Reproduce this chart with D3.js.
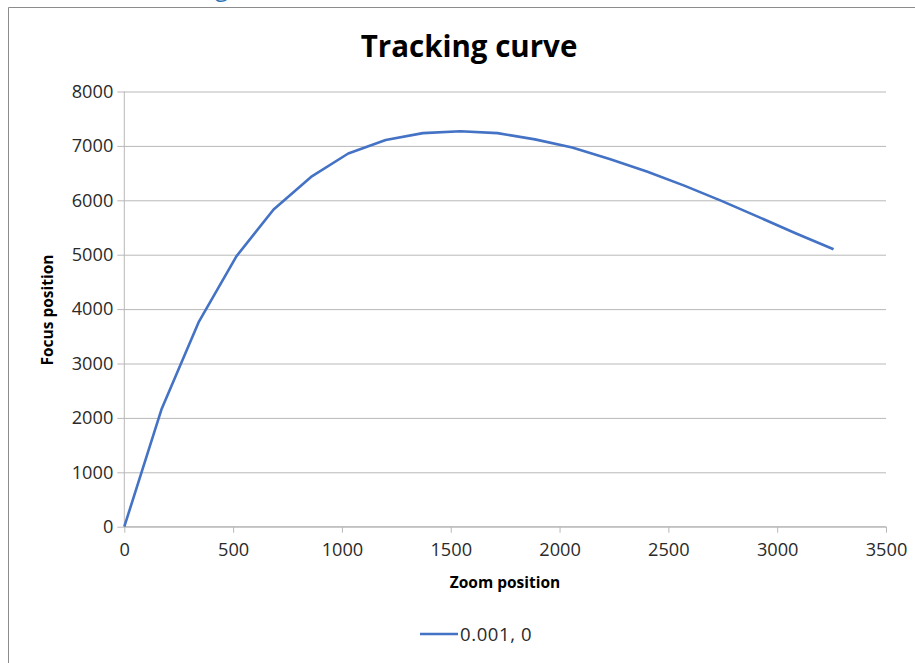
<!DOCTYPE html>
<html>
<head>
<meta charset="utf-8">
<script src="https://cdn.jsdelivr.net/npm/d3@7"></script>
<style>
  html, body { margin: 0; padding: 0; background: #fff; }
  svg { display: block; }
  text { font-family: "Open Sans", "Noto Sans", sans-serif; }
</style>
</head>
<body>
<script>
// ---- data ----
const zoomPositions = [0, 172, 343, 515, 686, 858, 1029, 1201, 1372, 1544, 1715, 1887, 2058, 2230, 2401, 2573, 2744, 2916, 3087, 3259];
const focusPositions = [0, 2170, 3770, 4970, 5830, 6430, 6860, 7110, 7235, 7270, 7235, 7120, 6970, 6760, 6530, 6270, 5990, 5690, 5390, 5100];
const xTicks = [0, 500, 1000, 1500, 2000, 2500, 3000, 3500];
const yTicks = [0, 1000, 2000, 3000, 4000, 5000, 6000, 7000, 8000];
const seriesName = "0.001, 0";
const chartTitle = "Tracking curve";
const xTitle = "Zoom position";
const yTitle = "Focus position";

const W = 915, H = 663;
const plot = { left: 124.3, right: 886, top: 91.5, bottom: 526.7 };

const svg = d3.select("body").append("svg").attr("width", W).attr("height", H);

// cut-off heading above the chart frame (as in the reference)
svg.append("text").attr("x", 215).attr("y", -4).attr("font-size", 24)
  .attr("fill", "#2e74b5").text("g");

// chart frame
svg.append("path").attr("d", `M8.5,${H + 2} V7.5 H${W + 2}`)
  .attr("fill", "none").attr("stroke", "#8c8c8c").attr("stroke-width", 1);

const x = d3.scaleLinear().domain([0, 3500]).range([plot.left, plot.right]);
const y = d3.scaleLinear().domain([0, 8000]).range([plot.bottom, plot.top]);

const gridColor = "#b8b8b8";
const tickFont = 18.2;

// y axis with gridlines
const yAxis = d3.axisLeft(y).tickValues(yTicks).tickSize(-(plot.right - plot.left)).tickPadding(11).tickFormat(d3.format("d"));
const gy = svg.append("g").attr("transform", `translate(${plot.left},0)`).call(yAxis);
gy.select(".domain").remove();
gy.selectAll(".tick line").attr("stroke", gridColor).attr("x1", -7);
gy.selectAll(".tick text").attr("font-size", tickFont).attr("fill", "#2a2a2a")
  .attr("font-family", "'Open Sans', sans-serif");

// vertical axis line
svg.append("line").attr("x1", plot.left).attr("x2", plot.left)
  .attr("y1", plot.top).attr("y2", plot.bottom).attr("stroke", gridColor);

// x axis
const xAxis = d3.axisBottom(x).tickValues(xTicks).tickSize(6).tickPadding(10).tickFormat(d3.format("d"));
const gx = svg.append("g").attr("transform", `translate(0,${plot.bottom})`).call(xAxis);
gx.select(".domain").attr("stroke", gridColor).attr("d", `M${plot.left},0H${plot.right}`);
gx.selectAll(".tick line").attr("stroke", gridColor);
gx.selectAll(".tick text").attr("font-size", tickFont).attr("fill", "#2a2a2a")
  .attr("font-family", "'Open Sans', sans-serif");

// line
const data = zoomPositions.map((z, i) => ({ z, f: focusPositions[i] }));
svg.append("path").datum(data)
  .attr("fill", "none").attr("stroke", "#4472c4").attr("stroke-width", 2.6)
  .attr("stroke-linejoin", "round")
  .attr("d", d3.line().x(d => x(d.z)).y(d => y(d.f)));

// title
svg.append("text").attr("x", 469).attr("y", 57).attr("text-anchor", "middle")
  .attr("font-size", 29.5).attr("font-weight", "bold").attr("fill", "#000")
  .text(chartTitle);

// axis titles
svg.append("text").attr("x", 505).attr("y", 588).attr("text-anchor", "middle")
  .attr("font-size", 15.5).attr("font-weight", "bold").attr("fill", "#000")
  .text(xTitle);
svg.append("text").attr("transform", "translate(53,310) rotate(-90)").attr("text-anchor", "middle")
  .attr("font-size", 15.5).attr("font-weight", "bold").attr("fill", "#000")
  .text(yTitle);

// legend
const lg = svg.append("g");
lg.append("line").attr("x1", 420).attr("x2", 458).attr("y1", 634).attr("y2", 634)
  .attr("stroke", "#4472c4").attr("stroke-width", 2.6);
lg.append("text").attr("x", 460).attr("y", 640.5).attr("font-size", 18.5).attr("fill", "#2a2a2a")
  .attr("letter-spacing", 0.6)
  .text(seriesName);
</script>
</body>
</html>
